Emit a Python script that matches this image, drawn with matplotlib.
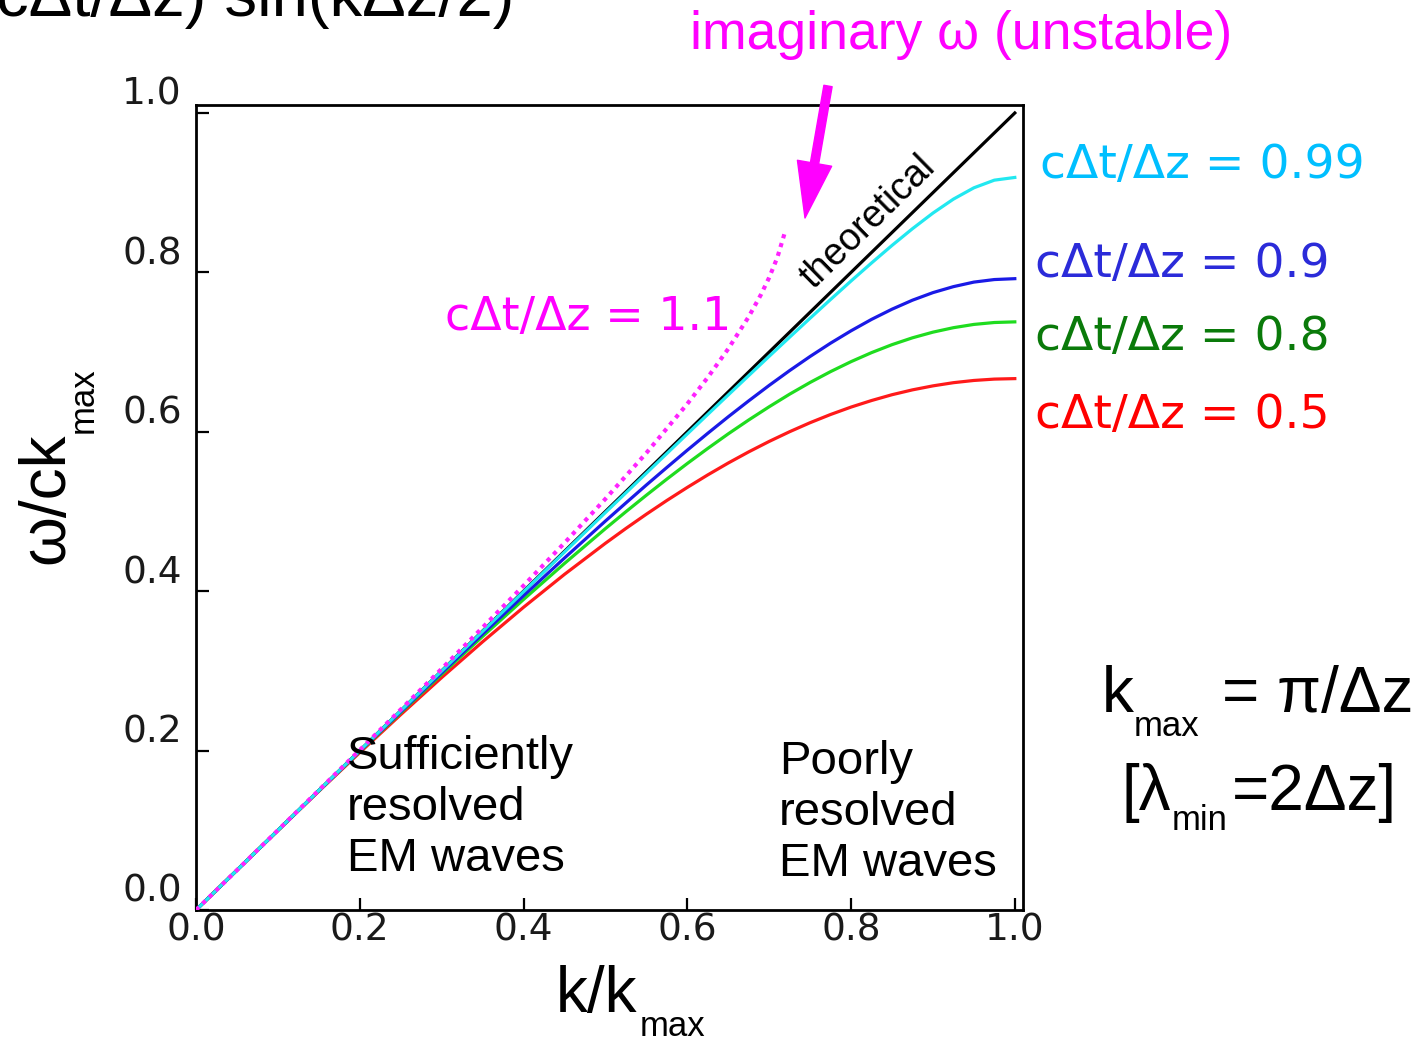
import matplotlib.pyplot as plt
from matplotlib.patches import FancyArrowPatch

W, H = 1428, 1042

# normalised wavenumber k/k_max (finer spacing where the curves bend)
k = [0.00, 0.05, 0.10, 0.15, 0.20, 0.25, 0.30, 0.35, 0.40, 0.45, 0.50,
     0.525, 0.55, 0.575, 0.60, 0.625, 0.65, 0.675, 0.70, 0.725, 0.75,
     0.775, 0.80, 0.825, 0.85, 0.875, 0.90, 0.925, 0.95, 0.975, 1.00]

# numerical omega/ck_max for each Courant number c*dt/dz
w_050 = [0.0000, 0.0500, 0.0997, 0.1490, 0.1975, 0.2451, 0.2916, 0.3365, 0.3798, 0.4211, 0.4601,
         0.4787, 0.4966, 0.5138, 0.5302, 0.5459, 0.5608, 0.5748, 0.5879, 0.6001, 0.6114,
         0.6217, 0.6310, 0.6392, 0.6465, 0.6526, 0.6576, 0.6616, 0.6644, 0.6661, 0.6667]
w_080 = [0.0000, 0.0500, 0.0999, 0.1495, 0.1988, 0.2476, 0.2958, 0.3432, 0.3896, 0.4348, 0.4785,
         0.4997, 0.5204, 0.5406, 0.5602, 0.5791, 0.5974, 0.6148, 0.6314, 0.6472, 0.6619,
         0.6755, 0.6880, 0.6993, 0.7093, 0.7179, 0.7250, 0.7306, 0.7347, 0.7371, 0.7379]
w_090 = [0.0000, 0.0500, 0.0999, 0.1497, 0.1994, 0.2487, 0.2977, 0.3463, 0.3943, 0.4416, 0.4880,
         0.5107, 0.5332, 0.5552, 0.5769, 0.5981, 0.6188, 0.6388, 0.6582, 0.6768, 0.6945,
         0.7112, 0.7267, 0.7410, 0.7538, 0.7651, 0.7746, 0.7821, 0.7878, 0.7910, 0.7921]
w_099 = [0.0000, 0.0500, 0.1000, 0.1500, 0.1999, 0.2499, 0.2998, 0.3496, 0.3994, 0.4491, 0.4987,
         0.5234, 0.5481, 0.5727, 0.5973, 0.6218, 0.6462, 0.6705, 0.6947, 0.7187, 0.7425,
         0.7660, 0.7892, 0.8118, 0.8338, 0.8548, 0.8744, 0.8919, 0.9061, 0.9157, 0.9191]

# c*dt/dz = 1.1 only has real omega up to k/k_max ~ 0.72
k_110 = [0.00, 0.05, 0.10, 0.15, 0.20, 0.25, 0.30, 0.35, 0.40, 0.45, 0.50,
         0.55, 0.60, 0.625, 0.65, 0.675, 0.69, 0.70, 0.71, 0.72]
w_110 = [0.0000, 0.0500, 0.1001, 0.1503, 0.2007, 0.2515, 0.3026, 0.3544, 0.4069, 0.4605, 0.5158,
         0.5734, 0.6350, 0.6682, 0.7041, 0.7443, 0.7722, 0.7935, 0.8187, 0.8530]

# exact dispersion omega = c k
k_th = [0.0, 1.0]
w_th = [0.0, 1.0]

ticks = [0.0, 0.2, 0.4, 0.6, 0.8, 1.0]
tick_labels = ['0.0', '0.2', '0.4', '0.6', '0.8', '1.0']

plt.rcParams['font.family'] = ['Liberation Sans', 'DejaVu Sans']


def fx(px):
    return px / W


def fy(py):
    return 1 - py / H


fig = plt.figure(figsize=(W / 100, H / 100), dpi=100)
ax = fig.add_axes([fx(196), fy(910), fx(1023) - fx(196), fy(105) - fy(910)])

ax.plot(k_th, w_th, color='black', lw=2.3, zorder=3)
ax.plot(k, w_050, color='#ff1a1a', lw=2.3, zorder=3)
ax.plot(k, w_080, color='#1fdc1f', lw=2.3, zorder=3)
ax.plot(k, w_090, color='#1a1ae6', lw=2.3, zorder=3)
ax.plot(k, w_099, color='#22e8f0', lw=2.3, zorder=4)
ax.plot(k_110, w_110, color='#ff22ff', lw=3.0, ls=(0, (1.0, 1.2)), zorder=5)

ax.set_xlim(0, 1.01)
ax.set_ylim(0, 1.01)
ax.set_xticks(ticks)
ax.set_xticklabels(tick_labels, family='DejaVu Sans')
ax.set_yticks(ticks)
ax.set_yticklabels(tick_labels, family='DejaVu Sans')
for s in ['top', 'right', 'bottom', 'left']:
    ax.spines[s].set_linewidth(2.0)
ax.tick_params(direction='in', length=9, width=1.6, labelsize=27,
               labelcolor='#1a1a1a', pad=2)
for lab in ax.get_yticklabels():
    lab.set_verticalalignment('bottom')
    lab.set_x(-0.014)

# curve annotations
fig.text(fx(868), fy(222), 'theoretical', fontsize=27, rotation=44.5,
         ha='center', va='center')

comic = 'DejaVu Sans'
fig.text(fx(1040), fy(178), 'c\u0394t/\u0394z = 0.99', fontsize=34, color='#00bfff', family=comic)
fig.text(fx(1035), fy(277), 'c\u0394t/\u0394z = 0.9', fontsize=34, color='#2b2bd9', family=comic)
fig.text(fx(1035), fy(350), 'c\u0394t/\u0394z = 0.8', fontsize=34, color='#0a7a0a', family=comic)
fig.text(fx(1035), fy(428), 'c\u0394t/\u0394z = 0.5', fontsize=34, color='#ff0000', family=comic)
fig.text(fx(445), fy(330), 'c\u0394t/\u0394z = 1.1', fontsize=33, color='#ff00ff', family=comic)

fig.text(fx(690), fy(49), 'imaginary \u03c9 (unstable)', fontsize=38.5, color='#ff00ff')
arrow = FancyArrowPatch((828, H - 86), (805, H - 218),
                        arrowstyle='simple,tail_width=0.3,head_width=1.25,head_length=2.0',
                        mutation_scale=20, color='#ff00ff', shrinkA=0, shrinkB=0,
                        transform=None)
fig.patches.append(arrow)

# partly visible dispersion relation at the top
fig.text(fx(-4), fy(16), 'c\u0394t/\u0394z) sin(k\u0394z/2)', fontsize=47)

fig.text(fx(347), fy(871), 'Sufficiently\nresolved\nEM waves', fontsize=34,
         va='baseline', linespacing=1.2)
fig.text(fx(779), fy(876), 'Poorly\nresolved\nEM waves', fontsize=34,
         va='baseline', linespacing=1.2)

# axis labels with lowered subscripts
fig.text(fx(556), fy(1012), 'k/k', fontsize=46)
fig.text(fx(640), fy(1036), 'max', fontsize=25)
fig.text(fx(63), fy(564), '\u03c9/ck', fontsize=46, rotation=90,
         rotation_mode='anchor', ha='left', va='baseline')
fig.text(fx(93), fy(433), 'max', fontsize=25, rotation=90,
         rotation_mode='anchor', ha='left', va='baseline')

# grid definitions
fig.text(fx(1102), fy(712), 'k', fontsize=46)
fig.text(fx(1134), fy(736), 'max', fontsize=25)
fig.text(fx(1222), fy(712), '= \u03c0/\u0394z', fontsize=46)
fig.text(fx(1122), fy(810), '[\u03bb', fontsize=46)
fig.text(fx(1172), fy(830), 'min', fontsize=25)
fig.text(fx(1232), fy(810), '=2\u0394z]', fontsize=46)

fig.savefig('out.png', dpi=100)
